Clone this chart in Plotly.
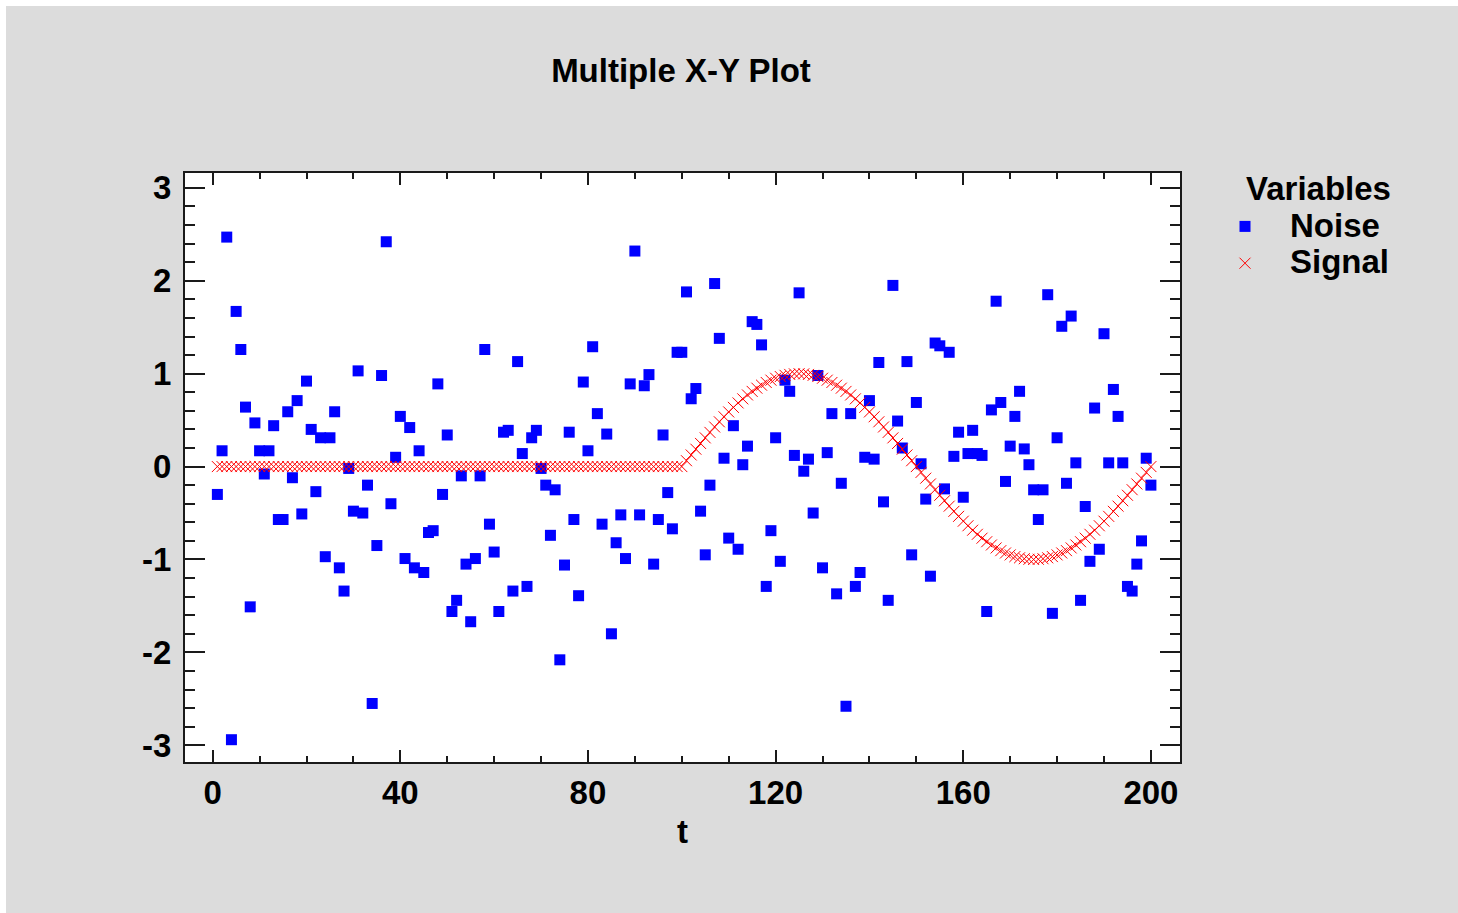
import plotly.graph_objects as go

# ---------------- data ----------------
T = list(range(1, 201))

NOISE = [
    -0.30, 0.17, 2.47, -2.94, 1.67, 1.26, 0.64, -1.51, 0.47, 0.17,
    -0.08, 0.17, 0.44, -0.57, -0.57, 0.59, -0.12, 0.71, -0.51, 0.92,
    0.40, -0.27, 0.31, -0.97, 0.31, 0.59, -1.09, -1.34, -0.02, -0.48,
    1.03, -0.50, -0.20, -2.55, -0.85, 0.98, 2.42, -0.40, 0.10, 0.54,
    -0.99, 0.42, -1.09, 0.17, -1.14, -0.71, -0.69, 0.89, -0.30, 0.34,
    -1.56, -1.44, -0.10, -1.05, -1.67, -0.99, -0.10, 1.26, -0.62, -0.92,
    -1.56, 0.37, 0.39, -1.34, 1.13, 0.14, -1.29, 0.31, 0.39, -0.02,
    -0.20, -0.74, -0.25, -2.08, -1.06, 0.37, -0.57, -1.39, 0.91, 0.17,
    1.29, 0.57, -0.62, 0.35, -1.80, -0.82, -0.52, -0.99, 0.89, 2.32,
    -0.52, 0.87, 0.99, -1.05, -0.57, 0.34, -0.28, -0.67, 1.23, 1.23,
    1.88, 0.73, 0.84, -0.48, -0.95, -0.20, 1.97, 1.38, 0.09, -0.77,
    0.44, -0.89, 0.02, 0.22, 1.56, 1.53, 1.31, -1.29, -0.69, 0.31,
    -1.02, 0.93, 0.81, 0.12, 1.87, -0.05, 0.08, -0.50, 0.98, -1.09,
    0.15, 0.57, -1.37, -0.18, -2.58, 0.57, -1.29, -1.14, 0.10, 0.71,
    0.08, 1.12, -0.38, -1.44, 1.95, 0.49, 0.20, 1.13, -0.95, 0.69,
    0.03, -0.35, -1.18, 1.33, 1.30, -0.24, 1.23, 0.11, 0.37, -0.33,
    0.14, 0.39, 0.14, 0.12, -1.56, 0.61, 1.78, 0.69, -0.16, 0.22,
    0.54, 0.81, 0.19, 0.02, -0.25, -0.57, -0.25, 1.85, -1.58, 0.31,
    1.51, -0.18, 1.62, 0.04, -1.44, -0.43, -1.02, 0.63, -0.89, 1.43,
    0.04, 0.83, 0.54, 0.04, -1.29, -1.34, -1.05, -0.80, 0.09, -0.20,
]

SIGNAL = [
    0.0, 0.0, 0.0, 0.0, 0.0, 0.0, 0.0, 0.0, 0.0, 0.0,
    0.0, 0.0, 0.0, 0.0, 0.0, 0.0, 0.0, 0.0, 0.0, 0.0,
    0.0, 0.0, 0.0, 0.0, 0.0, 0.0, 0.0, 0.0, 0.0, 0.0,
    0.0, 0.0, 0.0, 0.0, 0.0, 0.0, 0.0, 0.0, 0.0, 0.0,
    0.0, 0.0, 0.0, 0.0, 0.0, 0.0, 0.0, 0.0, 0.0, 0.0,
    0.0, 0.0, 0.0, 0.0, 0.0, 0.0, 0.0, 0.0, 0.0, 0.0,
    0.0, 0.0, 0.0, 0.0, 0.0, 0.0, 0.0, 0.0, 0.0, 0.0,
    0.0, 0.0, 0.0, 0.0, 0.0, 0.0, 0.0, 0.0, 0.0, 0.0,
    0.0, 0.0, 0.0, 0.0, 0.0, 0.0, 0.0, 0.0, 0.0, 0.0,
    0.0, 0.0, 0.0, 0.0, 0.0, 0.0, 0.0, 0.0, 0.0, 0.0,
    0.063, 0.125, 0.187, 0.249, 0.309, 0.368, 0.426, 0.482, 0.536, 0.588,
    0.637, 0.685, 0.729, 0.771, 0.809, 0.844, 0.876, 0.905, 0.930, 0.951,
    0.969, 0.982, 0.992, 0.998, 1.000, 0.998, 0.992, 0.982, 0.969, 0.951,
    0.930, 0.905, 0.876, 0.844, 0.809, 0.771, 0.729, 0.685, 0.637, 0.588,
    0.536, 0.482, 0.426, 0.368, 0.309, 0.249, 0.187, 0.125, 0.063, 0.000,
    -0.063, -0.125, -0.187, -0.249, -0.309, -0.368, -0.426, -0.482, -0.536, -0.588,
    -0.637, -0.685, -0.729, -0.771, -0.809, -0.844, -0.876, -0.905, -0.930, -0.951,
    -0.969, -0.982, -0.992, -0.998, -1.000, -0.998, -0.992, -0.982, -0.969, -0.951,
    -0.930, -0.905, -0.876, -0.844, -0.809, -0.771, -0.729, -0.685, -0.637, -0.588,
    -0.536, -0.482, -0.426, -0.368, -0.309, -0.249, -0.187, -0.125, -0.063, 0.000,
]

X_TICKS = [0, 40, 80, 120, 160, 200]
X_LABELS = ["0", "40", "80", "120", "160", "200"]
Y_TICKS = [-3, -2, -1, 0, 1, 2, 3]
Y_LABELS = ["-3", "-2", "-1", "0", "1", "2", "3"]

# ---------------- styling ----------------
W, H = 1458, 913
L, R, TOP, B = 185, 278, 173, 151
PW, PH = W - L - R, H - TOP - B
FONT = "Liberation Sans, Arial, sans-serif"
BG = "#dcdcdc"
AX = "#1a1a1a"
FS = 33
BOLD = dict(family=FONT, size=FS, color="#000", weight="bold")


def big(s):
    return '<span style="font-size:%dpx">%s</span>' % (FS, s)


fig = go.Figure()
fig.add_trace(go.Scatter(
    x=T, y=NOISE, mode="markers", name=big("Noise"),
    marker=dict(symbol="square", size=11, color="#0000ff", line=dict(width=0)),
))
fig.add_trace(go.Scatter(
    x=T, y=SIGNAL, mode="markers", name=big("Signal"),
    marker=dict(symbol="x-thin", size=11, color="#ff0000",
                line=dict(width=1, color="#ff0000")),
))

axis_common = dict(
    showgrid=False, zeroline=False, showline=True, linecolor=AX, linewidth=2,
    mirror="ticks", ticks="inside", tickcolor=AX, tickwidth=2,
    tickfont=BOLD,
)

fig.update_layout(
    width=W, height=H,
    margin=dict(l=L, r=R, t=TOP, b=B, autoexpand=False),
    paper_bgcolor=BG, plot_bgcolor="#ffffff",
    font=dict(family=FONT, size=FS, color="#000"),
    title=dict(text="Multiple X-Y Plot", xref="container", x=681 / W, xanchor="center",
               yref="container", y=1 - 70 / H, yanchor="middle", font=BOLD),
    xaxis=dict(axis_common, range=[-5.9, 206.2], tickvals=X_TICKS, ticktext=X_LABELS,
               ticklen=12, ticklabelstandoff=0,
               minor=dict(dtick=10, tick0=0, ticks="inside", ticklen=6, tickwidth=2, tickcolor=AX),
               title=dict(text="t", standoff=10, font=BOLD)),
    yaxis=dict(axis_common, range=[-3.18, 3.16], tickvals=Y_TICKS, ticktext=Y_LABELS,
               ticklen=20, ticklabelstandoff=5,
               minor=dict(dtick=0.2, tick0=0, ticks="inside", ticklen=10, tickwidth=2, tickcolor=AX)),
    showlegend=True,
    legend=dict(
        xref="container", yref="container", x=1200 / W, y=1 - 203 / H,
        xanchor="left", yanchor="top", bgcolor="rgba(0,0,0,0)", borderwidth=0,
        itemwidth=80, tracegroupgap=0,
        font=dict(family=FONT, size=26, color="#000", weight="bold"),
    ),
    annotations=[
        dict(text="Variables", xref="paper", yref="paper",
             x=(1318 - L) / PW, y=(H - B - 188) / PH, xanchor="center", yanchor="middle",
             showarrow=False, font=BOLD),
    ],
    shapes=[
        dict(type="rect", xref="paper", yref="paper", layer="above",
             x0=(0 - L) / PW, x1=(W - L) / PW, y0=(H - B - 6) / PH, y1=(H - B) / PH,
             line=dict(width=0), fillcolor="#ffffff"),
        dict(type="rect", xref="paper", yref="paper", layer="above",
             x0=(0 - L) / PW, x1=(6 - L) / PW, y0=(-B) / PH, y1=(H - B) / PH,
             line=dict(width=0), fillcolor="#ffffff"),
    ],
)

fig.write_html("out.html", config={"displayModeBar": False})
